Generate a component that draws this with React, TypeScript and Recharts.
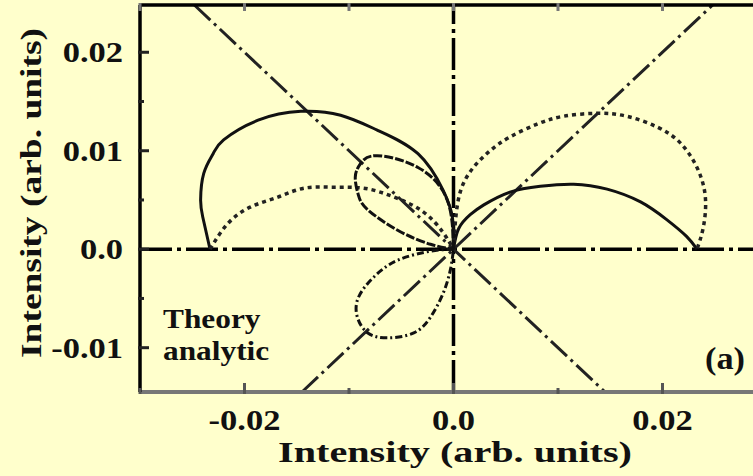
import React from 'react'
import { ComposedChart, Line, ReferenceLine, XAxis, YAxis } from 'recharts'

// axis ranges and ticks (arb. units)
const xDomain = [-0.03, 0.03]
const yDomain = [-0.0145, 0.0248]
const xTicks = [-0.03, -0.02, -0.01, 0, 0.01, 0.02, 0.03]
const xLabelTicks = [-0.02, 0, 0.02]
const xLabelText = ['-0.02', '0.0', '0.02']
const yTicks = [-0.01, -0.005, 0, 0.005, 0.01, 0.015, 0.02]
const yLabelTicks = [-0.01, 0, 0.01, 0.02]
const yLabelText = ['-0.01', '0.0', '0.01', '0.02']

// large left lobe, solid
const solidLeftX = [-0.0233, -0.024, -0.0242, -0.0239, -0.023, -0.022, -0.0187, -0.0146, -0.0108, -0.0073, -0.0034, -0.001, -0.0001, 0]
const solidLeftY = [0, 0.0033, 0.005, 0.0077, 0.0097, 0.0111, 0.0131, 0.014, 0.0136, 0.0121, 0.0097, 0.006, 0.0032, 0]

// small right lobe, solid
const solidRightX = [0, 0.0005, 0.0016, 0.0029, 0.0054, 0.0083, 0.0115, 0.0147, 0.0179, 0.0204, 0.0223, 0.0233]
const solidRightY = [0, 0.0021, 0.0035, 0.0045, 0.0058, 0.0064, 0.0066, 0.0061, 0.0048, 0.003, 0.0013, 0]

// large right lobe, dotted
const dotRightX = [0, 0.0002, 0.0007, 0.0019, 0.0035, 0.0054, 0.008, 0.0105, 0.0137, 0.0166, 0.0195, 0.0217, 0.0233, 0.0241, 0.0239, 0.0233]
const dotRightY = [0, 0.003, 0.006, 0.0083, 0.01, 0.0114, 0.0127, 0.0135, 0.0138, 0.0135, 0.0124, 0.0108, 0.0083, 0.0053, 0.0022, 0]

// small left lobe, dotted
const dotLeftX = [-0.0233, -0.0216, -0.0194, -0.0168, -0.0143, -0.0115, -0.0086, -0.0057, -0.0029, -0.001, 0]
const dotLeftY = [0, 0.0026, 0.0043, 0.0053, 0.0062, 0.0063, 0.0062, 0.0053, 0.0038, 0.0017, 0]

// closed loops through the origin
const upperLoopX = [0, -0.0006, -0.0034, -0.0073, -0.0089, -0.0094, -0.0091, -0.0082, -0.0053, -0.0022, 0]
const upperLoopY = [0, 0.005, 0.0083, 0.0095, 0.0087, 0.0073, 0.0055, 0.004, 0.0019, 0.0005, 0]
const lowerLoopX = [0, -0.0022, -0.0053, -0.0076, -0.0091, -0.0092, -0.0082, -0.0063, -0.0038, -0.0022, -0.001, -0.0003, 0]
const lowerLoopY = [0, -0.0002, -0.0011, -0.0028, -0.0049, -0.0069, -0.0085, -0.009, -0.0085, -0.0069, -0.0045, -0.0021, 0]

const toPoints = (xs: number[], ys: number[]) => xs.map((x, i) => ({ x, y: ys[i] }))

const labelIndex = (list: number[], v: number) => list.findIndex((t) => Math.abs(t - v) < 1e-9)

const font = { fontFamily: '"Liberation Serif", "Times New Roman", serif', fontWeight: 'bold' as const, fill: '#111' }

const BottomTick = (props: any) => {
  const { x, y, payload } = props
  const i = labelIndex(xLabelTicks, payload.value)
  return (
    <g>
      <line x1={x} y1={y} x2={x} y2={y - (i >= 0 ? 11 : 6)} stroke="#555" strokeWidth={3} />
      {i >= 0 && (
        <text transform={`translate(${x},${y + 36}) scale(1.15,1)`} textAnchor="middle" fontSize={30} {...font}>
          {xLabelText[i]}
        </text>
      )}
    </g>
  )
}

const TopTick = (props: any) => {
  const { x, y } = props
  return <line x1={x} y1={y} x2={x} y2={y + 8} stroke="#777" strokeWidth={3} />
}

const LeftTick = (props: any) => {
  const { x, y, payload } = props
  const i = labelIndex(yLabelTicks, payload.value)
  return (
    <g>
      <line x1={x} y1={y} x2={x + (i >= 0 ? 11 : 6)} y2={y} stroke="#222" strokeWidth={3} />
      {i >= 0 && (
        <text transform={`translate(${x - 15},${y + 10}) scale(1.15,1)`} textAnchor="end" fontSize={30} {...font}>
          {yLabelText[i]}
        </text>
      )}
    </g>
  )
}

const App = () => {
  return (
    <div style={{ position: 'fixed', left: 0, top: 0, width: 753, height: 476, overflow: 'hidden', background: '#FFFFCC' }}>
      <ComposedChart width={790} height={476} margin={{ top: 0, right: 23, bottom: 0, left: 0 }}>
        <XAxis
          xAxisId="top"
          orientation="top"
          type="number"
          dataKey="x"
          domain={xDomain}
          ticks={xTicks}
          interval={0}
          height={5}
          allowDataOverflow
          axisLine={{ stroke: '#000', strokeWidth: 3.5 }}
          tickLine={false}
          tickSize={0}
          tick={(p: any) => <TopTick {...p} />}
        />
        <XAxis
          type="number"
          dataKey="x"
          domain={xDomain}
          ticks={xTicks}
          interval={0}
          height={84}
          allowDataOverflow
          axisLine={{ stroke: '#777', strokeWidth: 4 }}
          tickLine={false}
          tickSize={0}
          tick={(p: any) => <BottomTick {...p} />}
        />
        <YAxis
          type="number"
          domain={yDomain}
          ticks={yTicks}
          interval={0}
          width={140}
          allowDataOverflow
          axisLine={{ stroke: '#000', strokeWidth: 3.5 }}
          tickLine={false}
          tickSize={0}
          tick={(p: any) => <LeftTick {...p} />}
        />
        <ReferenceLine y={0} stroke="#000" strokeWidth={3.5} strokeDasharray="32 5 4 5" />
        <ReferenceLine x={0} stroke="#000" strokeWidth={3.5} strokeDasharray="32 5 4 5" />
        <ReferenceLine
          segment={[{ x: yDomain[0], y: yDomain[0] }, { x: yDomain[1], y: yDomain[1] }]}
          stroke="#222"
          strokeWidth={3}
          strokeDasharray="22 5 3 5"
        />
        <ReferenceLine
          segment={[{ x: -yDomain[1], y: yDomain[1] }, { x: -yDomain[0], y: yDomain[0] }]}
          stroke="#222"
          strokeWidth={3}
          strokeDasharray="22 5 3 5"
        />
        <Line data={toPoints(solidLeftX, solidLeftY)} dataKey="y" type="natural" stroke="#111" strokeWidth={3} dot={false} activeDot={false} isAnimationActive={false} />
        <Line data={toPoints(solidRightX, solidRightY)} dataKey="y" type="natural" stroke="#111" strokeWidth={3} dot={false} activeDot={false} isAnimationActive={false} />
        <Line data={toPoints(dotRightX, dotRightY)} dataKey="y" type="natural" stroke="#222" strokeWidth={3.5} strokeDasharray="4 4" dot={false} activeDot={false} isAnimationActive={false} />
        <Line data={toPoints(dotLeftX, dotLeftY)} dataKey="y" type="natural" stroke="#222" strokeWidth={3.5} strokeDasharray="4 4" dot={false} activeDot={false} isAnimationActive={false} />
        <Line data={toPoints(upperLoopX, upperLoopY)} dataKey="y" type="natural" stroke="#111" strokeWidth={3} strokeDasharray="9 2" dot={false} activeDot={false} isAnimationActive={false} />
        <Line data={toPoints(lowerLoopX, lowerLoopY)} dataKey="y" type="natural" stroke="#111" strokeWidth={3} strokeDasharray="7 3 2 3" dot={false} activeDot={false} isAnimationActive={false} />
      </ComposedChart>
      <svg width={753} height={476} style={{ position: 'absolute', left: 0, top: 0, pointerEvents: 'none' }}>
        <text transform="translate(455,462) scale(1.34,1)" textAnchor="middle" fontSize={30} {...font}>
          Intensity (arb. units)
        </text>
        <text transform="translate(41,193) rotate(-90) scale(1.25,1)" textAnchor="middle" fontSize={30} {...font}>
          Intensity (arb. units)
        </text>
        <text transform="translate(163,328) scale(1.12,1)" fontSize={28} {...font}>
          Theory
        </text>
        <text transform="translate(163,360) scale(1.12,1)" fontSize={28} {...font}>
          analytic
        </text>
        <text transform="translate(725,369) scale(1.07,1)" textAnchor="middle" fontSize={32} {...font}>
          (a)
        </text>
      </svg>
    </div>
  )
}

export default App
